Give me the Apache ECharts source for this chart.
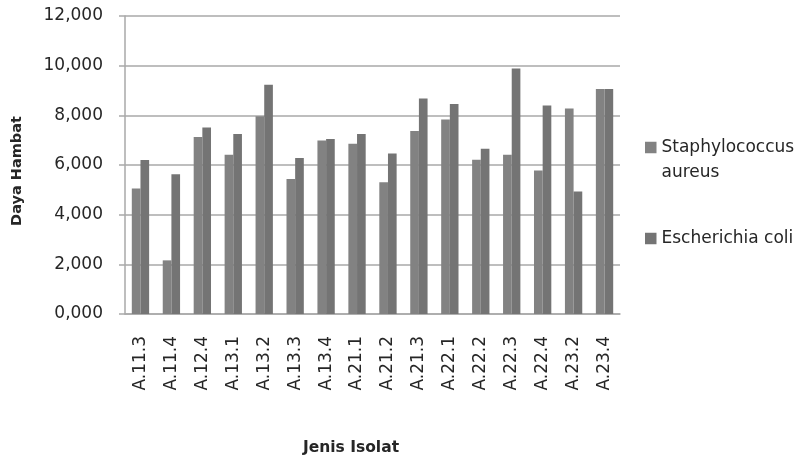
<!DOCTYPE html>
<html>
<head>
<meta charset="utf-8">
<title>Daya Hambat</title>
<script src="https://cdn.jsdelivr.net/npm/echarts@6/dist/echarts.min.js"></script>
<style>
  html, body { margin: 0; padding: 0; background: #fff; }
  #chart { width: 796px; height: 461px; }
</style>
</head>
<body>
<div id="chart"></div>
<script>
// Isolates on the category axis
const categories = ['A.11.3', 'A.11.4', 'A.12.4', 'A.13.1', 'A.13.2', 'A.13.3', 'A.13.4', 'A.21.1',
                    'A.21.2', 'A.21.3', 'A.22.1', 'A.22.2', 'A.22.3', 'A.22.4', 'A.23.2', 'A.23.4'];

// Inhibition values per isolate
const staphylococcus = [5.05, 2.16, 7.13, 6.41, 7.96, 5.44, 6.99, 6.86, 5.31, 7.37, 7.83, 6.21, 6.41, 5.78, 8.28, 9.06];
const escherichia = [6.20, 5.63, 7.51, 7.25, 9.23, 6.28, 7.05, 7.25, 6.46, 8.68, 8.46, 6.65, 9.89, 8.40, 4.93, 9.06];

// Value axis tick labels (decimal comma)
const yTickLabels = ['0,000', '2,000', '4,000', '6,000', '8,000', '10,000', '12,000'];

const FONT = 'DejaVu Sans';
const TEXT = '#262626';
const LINE = '#a9a9a9';

// Square swatch sitting in the upper half of a two-line legend entry
// (zero-area end points only stretch the symbol box to the full entry height)
const TOP_SWATCH = 'path://M0,0L0.01,0ZM0,6.75H11.5V18.25H0ZM0,50L0.01,50Z';

const chart = echarts.init(document.getElementById('chart'), null, { renderer: 'canvas' });

const legendCommon = {
  orient: 'vertical',
  left: 645,
  padding: 0,
  itemWidth: 11.5,
  itemHeight: 11.5,
  icon: 'rect',
  selectedMode: false,
  textStyle: { fontFamily: FONT, fontSize: 17, color: TEXT, lineHeight: 25 }
};

chart.setOption({
  animation: false,
  backgroundColor: '#ffffff',
  grid: { left: 125, top: 16, width: 495, height: 302 },
  legend: [
    Object.assign({}, legendCommon, {
      top: 135,
      itemHeight: 50,
      icon: TOP_SWATCH,
      data: ['Staphylococcus aureus'],
      formatter: () => 'Staphylococcus\naureus'
    }),
    Object.assign({}, legendCommon, {
      top: 226,
      data: ['Escherichia coli']
    })
  ],
  xAxis: {
    type: 'category',
    data: categories,
    name: 'Jenis Isolat',
    nameLocation: 'middle',
    nameGap: 126,
    nameTextStyle: { fontFamily: FONT, fontSize: 15.5, fontWeight: 'bold', color: TEXT, padding: [0, 43, 0, 0] },
    axisLine: { lineStyle: { color: LINE, width: 1.5 } },
    axisTick: { show: false },
    axisLabel: { rotate: 90, margin: 22, interval: 0, fontFamily: FONT, fontSize: 17, color: TEXT }
  },
  yAxis: {
    type: 'value',
    min: 0,
    max: 12,
    interval: 2,
    name: 'Daya Hambat',
    nameLocation: 'middle',
    nameGap: 100,
    nameRotate: 90,
    nameTextStyle: { fontFamily: FONT, fontSize: 14.5, fontWeight: 'bold', color: TEXT, padding: [0, 12, 0, 0] },
    axisLine: { show: true, lineStyle: { color: LINE, width: 1.5 } },
    axisTick: { show: true, length: 6, lineStyle: { color: LINE, width: 1.5 } },
    splitLine: { lineStyle: { color: LINE, width: 1.5 } },
    axisLabel: {
      margin: 22,
      fontFamily: FONT,
      fontSize: 17,
      color: TEXT,
      formatter: (v) => yTickLabels[Math.round(v / 2)]
    }
  },
  series: [
    {
      name: 'Staphylococcus aureus',
      type: 'bar',
      data: staphylococcus,
      barGap: '0%',
      barCategoryGap: '44%',
      itemStyle: { color: '#828282' }
    },
    {
      name: 'Escherichia coli',
      type: 'bar',
      data: escherichia,
      barGap: '0%',
      barCategoryGap: '44%',
      itemStyle: { color: '#747474' }
    }
  ]
});
</script>
</body>
</html>
